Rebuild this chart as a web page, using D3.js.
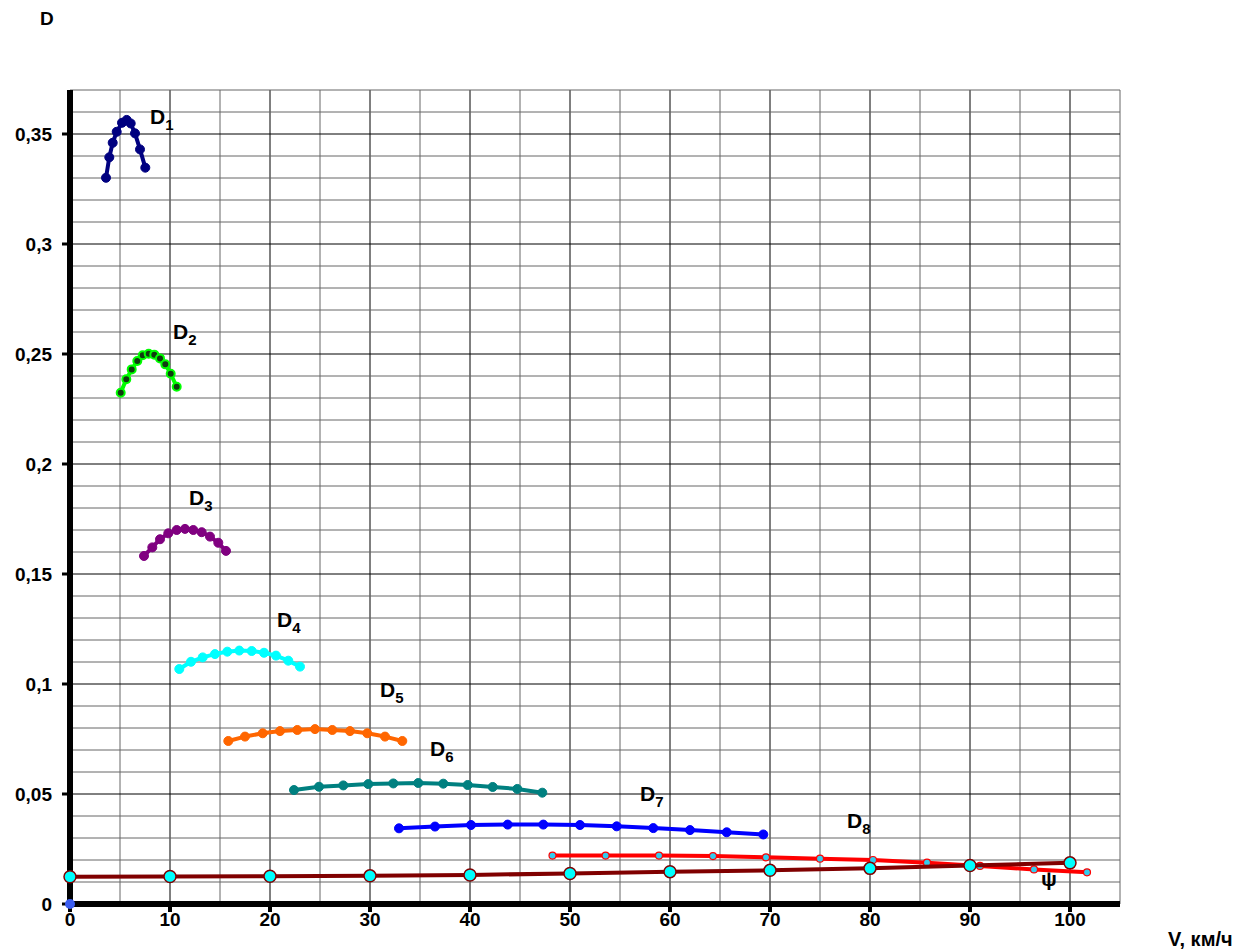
<!DOCTYPE html>
<html>
<head>
<meta charset="utf-8">
<script src="https://cdn.jsdelivr.net/npm/d3@7"></script>
<style>
  body { margin: 0; background: #fff; }
  text { font-family: "Liberation Sans", Arial, sans-serif; font-weight: bold; }
</style>
</head>
<body>
<div id="chart"></div>
<script>
// speed, km/h and dynamic factor for each gear
let d1V = [3.6, 3.93, 4.27, 4.67, 5.2, 5.67, 6.07, 6.5, 7.0, 7.53];
let d1D = [0.3301, 0.3394, 0.346, 0.351, 0.3551, 0.3564, 0.3548, 0.3503, 0.343, 0.3347];
let d2V = [5.07, 5.63, 6.17, 6.73, 7.27, 7.87, 8.43, 9.0, 9.53, 10.07, 10.67];
let d2D = [0.2324, 0.2385, 0.243, 0.2468, 0.2494, 0.2501, 0.2497, 0.248, 0.2453, 0.241, 0.2351];
let d3V = [7.4, 8.23, 9.0, 9.83, 10.67, 11.5, 12.33, 13.17, 14.0, 14.83, 15.6];
let d3D = [0.1582, 0.1621, 0.1658, 0.1685, 0.17, 0.1705, 0.17, 0.169, 0.167, 0.1642, 0.1605];
let d4V = [10.93, 12.1, 13.27, 14.5, 15.73, 16.93, 18.17, 19.4, 20.6, 21.83, 23.0];
let d4D = [0.1068, 0.1101, 0.1121, 0.1136, 0.1147, 0.1152, 0.115, 0.1142, 0.1129, 0.1106, 0.1079];
let d5V = [15.83, 17.5, 19.27, 21.0, 22.73, 24.5, 26.23, 28.0, 29.73, 31.5, 33.23];
let d5D = [0.0741, 0.0761, 0.0776, 0.0786, 0.0791, 0.0795, 0.0791, 0.0786, 0.0776, 0.0761, 0.0741];
let d6V = [22.4, 24.9, 27.33, 29.83, 32.33, 34.83, 37.33, 39.77, 42.27, 44.73, 47.23];
let d6D = [0.0518, 0.0533, 0.0539, 0.0545, 0.0548, 0.055, 0.0547, 0.0541, 0.0532, 0.0523, 0.0506];
let d7V = [32.9, 36.5, 40.1, 43.77, 47.33, 51.0, 54.67, 58.33, 62.0, 65.67, 69.33];
let d7D = [0.0344, 0.0352, 0.0359, 0.0361, 0.0361, 0.0359, 0.0353, 0.0345, 0.0336, 0.0326, 0.0316];
let d8V = [48.25, 53.56, 58.9, 64.3, 69.6, 75.0, 80.3, 85.7, 91.0, 96.4, 101.7];
let d8D = [0.022, 0.022, 0.022, 0.0218, 0.0212, 0.0206, 0.02, 0.0188, 0.0173, 0.0157, 0.0144];
let psiV = [0, 10, 20, 30, 40, 50, 60, 70, 80, 90, 100];
let psiD = [0.0124, 0.0125, 0.0126, 0.0128, 0.0132, 0.0139, 0.0147, 0.0153, 0.0162, 0.0175, 0.0187];
let originV = [0];
let originD = [0];

let xTicks = [0, 10, 20, 30, 40, 50, 60, 70, 80, 90, 100];
let yTicks = [0, 0.05, 0.1, 0.15, 0.2, 0.25, 0.3, 0.35];
let yTickLabels = ["0", "0,05", "0,1", "0,15", "0,2", "0,25", "0,3", "0,35"];

// curve label anchors: name, subscript, v, D
let labelNames = ["D", "D", "D", "D", "D", "D", "D", "D", "ψ"];
let labelSubs = ["1", "2", "3", "4", "5", "6", "7", "8", ""];
let labelV = [8.0, 10.3, 11.9, 20.7, 31.0, 36.0, 57.0, 77.7, 97.1];
let labelD = [0.3545, 0.2567, 0.1815, 0.126, 0.094, 0.0675, 0.0468, 0.0345, 0.0082];

let series = [
  {v: d1V, d: d1D, line: "#000080", fill: "#000080", stroke: "#000080", r: 4.5, sw: 1},
  {v: d2V, d: d2D, line: "#00ff00", fill: "#103a10", stroke: "#00ff00", r: 4, sw: 2},
  {v: d3V, d: d3D, line: "#800080", fill: "#800080", stroke: "#800080", r: 4.5, sw: 1},
  {v: d4V, d: d4D, line: "#00ffff", fill: "#00ffff", stroke: "#00ffff", r: 4.5, sw: 1},
  {v: d5V, d: d5D, line: "#ff6600", fill: "#ff6600", stroke: "#ff6600", r: 4.5, sw: 1},
  {v: d6V, d: d6D, line: "#008080", fill: "#008080", stroke: "#008080", r: 4.5, sw: 1},
  {v: d7V, d: d7D, line: "#0000ff", fill: "#0000ff", stroke: "#0000ff", r: 4.5, sw: 1},
  {v: d8V, d: d8D, line: "#ff0000", fill: "#33ccee", stroke: "#ff0000", r: 3.5, sw: 1.2},
  {v: psiV, d: psiD, line: "#800000", fill: "#00ffff", stroke: "#800000", r: 6, sw: 1.5}
];

function drawChart() {
  let width = 1256, height = 949;
  let svg = d3.select("#chart").append("svg")
    .attr("width", width)
    .attr("height", height);

  let xScale = d3.scaleLinear().domain([0, 105]).range([70, 1120]);
  let yScale = d3.scaleLinear().domain([0, 0.37]).range([904, 90]);

  // grid
  let grid = svg.append("g");
  d3.range(0, 106, 5).forEach(v => {
    grid.append("line")
      .attr("x1", xScale(v)).attr("x2", xScale(v))
      .attr("y1", yScale(0)).attr("y2", yScale(0.37))
      .attr("stroke", v % 10 === 0 ? "#000" : "#666")
      .attr("stroke-width", 1);
  });
  d3.range(0, 38).forEach(i => {
    let d = i / 100;
    grid.append("line")
      .attr("x1", xScale(0)).attr("x2", xScale(105))
      .attr("y1", yScale(d)).attr("y2", yScale(d))
      .attr("stroke", i % 5 === 0 ? "#000" : "#666")
      .attr("stroke-width", 1);
  });

  // thick axes
  svg.append("line")
    .attr("x1", xScale(0)).attr("x2", xScale(0))
    .attr("y1", yScale(0.37)).attr("y2", yScale(0) + 3)
    .attr("stroke", "#000").attr("stroke-width", 6);
  svg.append("line")
    .attr("x1", xScale(0) - 3).attr("x2", xScale(105))
    .attr("y1", yScale(0)).attr("y2", yScale(0))
    .attr("stroke", "#000").attr("stroke-width", 6);

  // y ticks and labels
  yTicks.forEach((t, i) => {
    svg.append("line")
      .attr("x1", xScale(0) - 8).attr("x2", xScale(0))
      .attr("y1", yScale(t)).attr("y2", yScale(t))
      .attr("stroke", "#000").attr("stroke-width", 3);
    svg.append("text")
      .attr("x", 52).attr("y", yScale(t))
      .attr("dy", "0.36em")
      .attr("text-anchor", "end")
      .attr("font-size", 19)
      .text(yTickLabels[i]);
  });

  // x ticks and labels
  xTicks.forEach(t => {
    svg.append("line")
      .attr("x1", xScale(t)).attr("x2", xScale(t))
      .attr("y1", yScale(0)).attr("y2", yScale(0) + 8)
      .attr("stroke", "#000").attr("stroke-width", 4);
    svg.append("text")
      .attr("x", xScale(t)).attr("y", 926)
      .attr("text-anchor", "middle")
      .attr("font-size", 19)
      .text(t);
  });

  svg.append("text").attr("x", 40).attr("y", 25).attr("font-size", 19).text("D");
  svg.append("text").attr("x", 1168).attr("y", 946).attr("font-size", 20).text("V, км/ч");

  // curves
  let line = d3.line()
    .x(p => xScale(p[0]))
    .y(p => yScale(p[1]));

  series.forEach(s => {
    let pts = s.v.map((v, i) => [v, s.d[i]]);
    let g = svg.append("g");
    g.append("path")
      .attr("d", line(pts))
      .attr("fill", "none")
      .attr("stroke", s.line)
      .attr("stroke-width", 4)
      .attr("stroke-linejoin", "round");
    g.selectAll("circle")
      .data(pts)
      .enter()
      .append("circle")
      .attr("cx", p => xScale(p[0]))
      .attr("cy", p => yScale(p[1]))
      .attr("r", s.r)
      .attr("fill", s.fill)
      .attr("stroke", s.stroke)
      .attr("stroke-width", s.sw);
  });

  svg.append("circle")
    .attr("cx", xScale(originV[0]))
    .attr("cy", yScale(originD[0]))
    .attr("r", 5)
    .attr("fill", "#3a5cf0");

  // curve labels
  labelNames.forEach((name, i) => {
    let t = svg.append("text")
      .attr("x", xScale(labelV[i]))
      .attr("y", yScale(labelD[i]))
      .attr("font-size", 21);
    t.append("tspan").text(name);
    if (labelSubs[i]) {
      t.append("tspan")
        .attr("font-size", 15)
        .attr("dy", 6)
        .text(labelSubs[i]);
    }
  });
}

drawChart();
</script>
</body>
</html>
